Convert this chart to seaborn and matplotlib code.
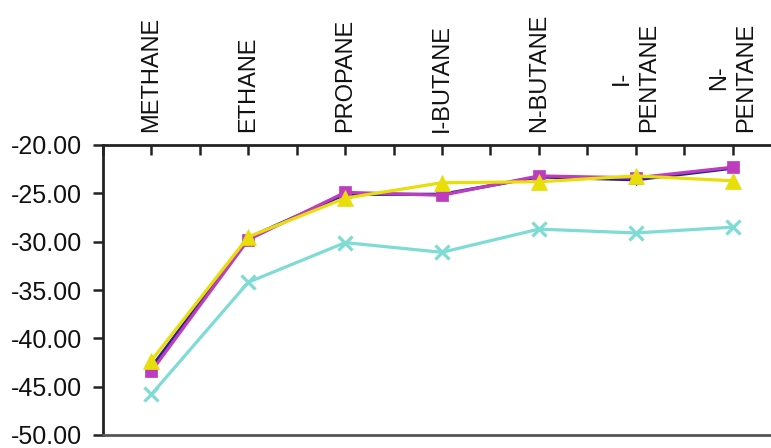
import matplotlib
matplotlib.use("Agg")
import matplotlib.pyplot as plt
import seaborn as sns
import pandas as pd
from matplotlib.ticker import FixedLocator, FormatStrFormatter

categories = ["METHANE", "ETHANE", "PROPANE", "I-BUTANE", "N-BUTANE", "I-\nPENTANE", "N-\nPENTANE"]
series_navy = [-43.0, -29.6, -25.1, -25.1, -23.3, -23.6, -22.4]
series_magenta = [-43.4, -29.8, -24.9, -25.2, -23.2, -23.4, -22.3]
series_yellow = [-42.3, -29.5, -25.5, -23.9, -23.8, -23.2, -23.7]
series_cyan = [-45.8, -34.2, -30.1, -31.1, -28.7, -29.1, -28.5]
y_ticks = [-20, -25, -30, -35, -40, -45, -50]

sns.set_theme(style="white")
plt.rcParams['font.family'] = ['Liberation Sans', 'DejaVu Sans']

fig = plt.figure(figsize=(7.71, 4.48), dpi=100)
ax = fig.add_axes([103 / 771, 1 - 435 / 448, (781 - 103) / 771, (435 - 145) / 448])

x = list(range(len(categories)))
specs = [
    (series_navy, "#23238C", "D", 5),
    (series_magenta, "#BE3CBE", "s", 9),
    (series_yellow, "#E8DE0A", "^", 11),
    (series_cyan, "#7EDCD4", "x", 10),
]
for vals, col, mk, ms in specs:
    df = pd.DataFrame({"x": x, "y": vals})
    sns.lineplot(data=df, x="x", y="y", ax=ax, color=col, marker=mk, markersize=ms,
                 linewidth=2.3, markeredgecolor=col, markeredgewidth=2.3 if mk == "x" else 0.5,
                 legend=False)

ax.set_xlim(-0.5, 6.5)
ax.set_ylim(-50, -20)
ax.set_xlabel("")
ax.set_ylabel("")

ax.xaxis.set_major_locator(FixedLocator(x))
ax.xaxis.set_minor_locator(FixedLocator([i + 0.5 for i in range(-1, 7)]))
ax.set_xticklabels(categories, rotation=90, fontsize=17, linespacing=1.3, va="bottom", ha="center")
ax.xaxis.tick_top()
ax.tick_params(axis="x", which="both", top=True, bottom=False, direction="in",
               length=7, width=1.8, color="#222222", pad=9)

ax.yaxis.set_major_locator(FixedLocator(y_ticks))
ax.yaxis.set_major_formatter(FormatStrFormatter("%.2f"))
ax.tick_params(axis="y", which="major", left=True, direction="out", length=7,
               width=1.8, color="#222222", labelsize=18, pad=8)
for lab in ax.get_yticklabels():
    lab.set_color("#111111")
for lab in ax.get_xticklabels():
    lab.set_color("#111111")

for s in ax.spines.values():
    s.set_color("#222222")
    s.set_linewidth(2)
    s.set_visible(True)
ax.spines["bottom"].set_color("#555555")

fig.savefig("out.png", dpi=100)
